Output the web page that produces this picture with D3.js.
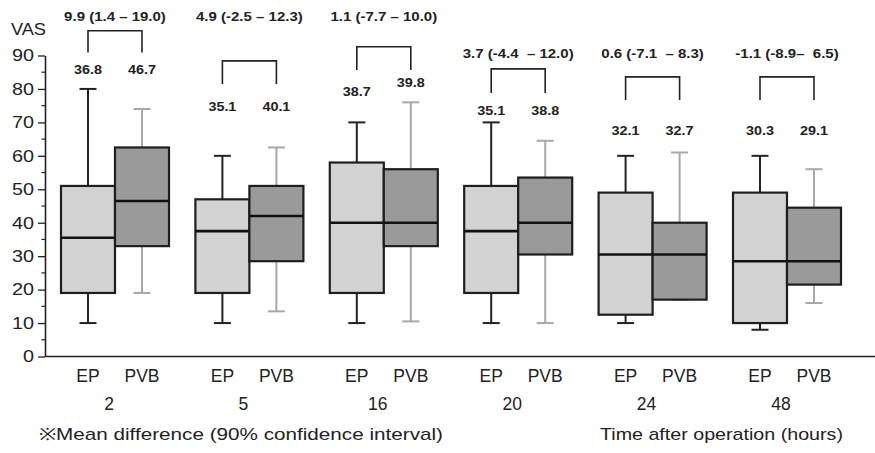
<!DOCTYPE html>
<html><head><meta charset="utf-8">
<script src="https://cdn.jsdelivr.net/npm/d3@7"></script>
<style>
html,body{margin:0;padding:0;background:#fff;}
text{font-family:"Liberation Sans",Arial,Helvetica,sans-serif;white-space:pre;}
</style></head>
<body><svg id="chart" width="875" height="453"></svg>
<script>
// ---- data ----
const groups = ["2", "5", "16", "20", "24", "48"];
const arms = ["EP", "PVB"];
// [min, q1, median, q3, max]
const epStats = [
  [10, 19, 35.5, 51, 80],
  [10, 19, 37.5, 47, 60],
  [10, 19, 40, 58, 70],
  [10, 19, 37.5, 51, 70],
  [10, 12.5, 30.5, 49, 60],
  [8, 10, 28.5, 49, 60]
];
const pvbStats = [
  [19, 33, 46.5, 62.5, 74],
  [13.5, 28.5, 42, 51, 62.5],
  [10.5, 33, 40, 56, 76],
  [10, 30.5, 40, 53.5, 64.5],
  [17, 17, 30.5, 40, 61],
  [16, 21.5, 28.5, 44.5, 56]
];
const epMeans = [36.8, 35.1, 38.7, 35.1, 32.1, 30.3];
const pvbMeans = [46.7, 40.1, 39.8, 38.8, 32.7, 29.1];
const diffLabels = ["9.9 (1.4 – 19.0)", "4.9 (-2.5 – 12.3)", "1.1 (-7.7 – 10.0)",
                    "3.7 (-4.4  – 12.0)", "0.6 (-7.1  – 8.3)", "-1.1 (-8.9–  6.5)"];
const yTicks = [0, 10, 20, 30, 40, 50, 60, 70, 80, 90];
const yMinorTicks = [5, 15, 25, 35, 45, 55, 65, 75, 85];

// ---- annotation layout (in VAS units) ----
const diffLevel   = [100.2, 100.2, 100.2, 89.2, 89.2, 89.2];
const bracketTop  = [97.4, 88.4, 92.6, 86, 83.6, 83.6];
const bracketBot  = [90.9, 81.5, 85.7, 78.8, 76.7, 76.7];
const epMeanLevel = [84.5, 73.5, 78, 72.2, 66.3, 66.3];
const pvbMeanLevel= [84.5, 73.5, 80.5, 72.2, 66.3, 66.3];

const svg = d3.select("#chart");
const y = d3.scaleLinear().domain([0, 90]).range([356.5, 55.5]);
const x = d3.scalePoint().domain(groups).range([115, 787]);
const sub = d3.scaleBand().domain(arms).range([-54, 54]);
const half = sub.bandwidth() / 2;
const fills = {EP: "#d2d2d2", PVB: "#9a9a9a"};
const whiskColor = {EP: "#222", PVB: "#a8a8a8"};

function stretch(sel, f) {
  sel.each(function () {
    const len = this.getComputedTextLength();
    d3.select(this).attr("textLength", len * f).attr("lengthAdjust", "spacingAndGlyphs");
  });
}

// ---- axes ----
const yAxis = d3.axisLeft(y).tickValues(yTicks).tickSize(7).tickSizeOuter(0);
const gy = svg.append("g").attr("transform", "translate(45,0)").call(yAxis);
gy.select(".domain").attr("stroke", "#222").attr("stroke-width", 1.6);
gy.selectAll(".tick line").attr("stroke", "#222").attr("stroke-width", 1.3);
gy.selectAll(".tick text").attr("font-size", 16.5).attr("fill", "#222").attr("x", -11)
  .attr("font-family", "Liberation Sans, Arial, sans-serif").call(stretch, 1.2);
svg.append("g").attr("transform", "translate(45,0)")
  .selectAll("line").data(yMinorTicks).join("line")
  .attr("x1", -3.5).attr("x2", 0).attr("y1", d => y(d)).attr("y2", d => y(d))
  .attr("stroke", "#222").attr("stroke-width", 1.2);

svg.append("line").attr("x1", 45).attr("x2", 875).attr("y1", y(0)).attr("y2", y(0))
  .attr("stroke", "#222").attr("stroke-width", 1.6);

svg.append("text").attr("x", 11).attr("y", 35).attr("font-size", 16.5).attr("fill", "#222")
  .text("VAS").call(stretch, 1.1);

// ---- boxes ----
const rows = [];
groups.forEach((g, i) => {
  rows.push({g, arm: "EP", s: epStats[i]});
  rows.push({g, arm: "PVB", s: pvbStats[i]});
});
const cx = d => x(d.g) + sub(d.arm) + half;

const bx = svg.append("g").selectAll("g").data(rows).join("g");
bx.append("line").attr("x1", cx).attr("x2", cx)
  .attr("y1", d => y(d.s[0])).attr("y2", d => y(d.s[4]))
  .attr("stroke", d => whiskColor[d.arm]).attr("stroke-width", 2);
bx.append("line").attr("x1", d => cx(d) - 8.5).attr("x2", d => cx(d) + 8.5)
  .attr("y1", d => y(d.s[4])).attr("y2", d => y(d.s[4]))
  .attr("stroke", d => whiskColor[d.arm]).attr("stroke-width", 2);
bx.append("line").attr("x1", d => cx(d) - 8.5).attr("x2", d => cx(d) + 8.5)
  .attr("y1", d => y(d.s[0])).attr("y2", d => y(d.s[0]))
  .attr("stroke", d => whiskColor[d.arm]).attr("stroke-width", 2);
bx.append("rect")
  .attr("x", d => x(d.g) + sub(d.arm)).attr("width", sub.bandwidth())
  .attr("y", d => y(d.s[3])).attr("height", d => y(d.s[1]) - y(d.s[3]))
  .attr("fill", d => fills[d.arm]).attr("stroke", "#1e1e1e").attr("stroke-width", 2.2);
bx.append("line").attr("x1", d => x(d.g) + sub(d.arm)).attr("x2", d => x(d.g) + sub(d.arm) + sub.bandwidth())
  .attr("y1", d => y(d.s[2])).attr("y2", d => y(d.s[2]))
  .attr("stroke", "#111").attr("stroke-width", 2.6);

// ---- annotations ----
const ann = svg.append("g");
groups.forEach((g, i) => {
  const xe = x(g) + sub("EP") + half, xp = x(g) + sub("PVB") + half;
  ann.append("path")
    .attr("d", `M${xe},${y(bracketBot[i])}V${y(bracketTop[i])}H${xp}V${y(bracketBot[i])}`)
    .attr("fill", "none").attr("stroke", "#222").attr("stroke-width", 1.6);
  ann.append("text").attr("x", x(g)).attr("y", y(diffLevel[i])).attr("text-anchor", "middle")
    .attr("font-size", 12.5).attr("font-weight", "bold").attr("fill", "#222")
    .text(diffLabels[i]).call(stretch, 1.2);
  ann.append("text").attr("x", xe).attr("y", y(epMeanLevel[i])).attr("text-anchor", "middle")
    .attr("font-size", 12.5).attr("font-weight", "bold").attr("fill", "#222")
    .text(epMeans[i].toFixed(1)).call(stretch, 1.15);
  ann.append("text").attr("x", xp).attr("y", y(pvbMeanLevel[i])).attr("text-anchor", "middle")
    .attr("font-size", 12.5).attr("font-weight", "bold").attr("fill", "#222")
    .text(pvbMeans[i].toFixed(1)).call(stretch, 1.15);
});

// ---- x labels ----
const xl = svg.append("g");
xl.selectAll("text.arm").data(rows).join("text").attr("class", "arm")
  .attr("x", cx).attr("y", 382).attr("text-anchor", "middle")
  .attr("font-size", 17.5).attr("fill", "#222").text(d => d.arm);
xl.selectAll("text.grp").data(groups).join("text").attr("class", "grp")
  .attr("x", d => x(d) - 6).attr("y", 410).attr("text-anchor", "middle")
  .attr("font-size", 17.5).attr("fill", "#222").text(d => d);

svg.append("text").attr("x", 39).attr("y", 440).attr("font-size", 17).attr("fill", "#222")
  .text("※Mean difference (90% confidence interval)")
  .attr("textLength", 404).attr("lengthAdjust", "spacingAndGlyphs");
svg.append("text").attr("x", 600).attr("y", 440).attr("font-size", 17).attr("fill", "#222")
  .text("Time after operation (hours)")
  .attr("textLength", 243).attr("lengthAdjust", "spacingAndGlyphs");
</script></body></html>
